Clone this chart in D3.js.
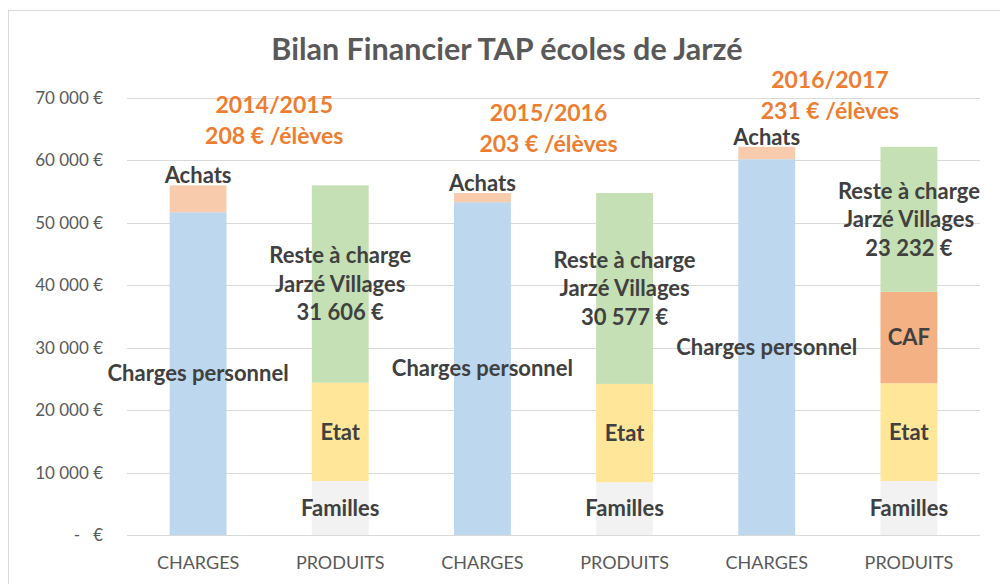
<!DOCTYPE html>
<html><head><meta charset="utf-8">
<script src="https://cdn.jsdelivr.net/npm/d3@7"></script>
<style>
html,body{margin:0;padding:0;background:#fff;}
svg{display:block;font-family:Lato,"Open Sans",sans-serif;}
</style></head>
<body>
<svg id="chart" width="1000" height="584"></svg>
<script>
// ---- data ----
const categories = ["CHARGES","PRODUITS","CHARGES","PRODUITS","CHARGES","PRODUITS"];
const years = ["2014/2015","2015/2016","2016/2017"];
const perPupil = ["208 € /élèves","203 € /élèves","231 € /élèves"];
const chargesPersonnel = [51700, 0, 53300, 0, 60200, 0];
const achats = [4306, 0, 1477, 0, 1980, 0];
const familles = [0, 8650, 0, 8450, 0, 8650];
const etat = [0, 15750, 0, 15750, 0, 15650];
const caf = [0, 0, 0, 0, 0, 14650];
const reste = [0, 31606, 0, 30577, 0, 23232];
const yTicks = [0,10000,20000,30000,40000,50000,60000,70000];

const seriesKeys = ["chargesPersonnel","achats","familles","etat","caf","reste"];
const seriesNames = {chargesPersonnel:"Charges personnel",achats:"Achats",familles:"Familles",etat:"Etat",caf:"CAF",reste:"Reste à charge"};
const colors = {chargesPersonnel:"#BDD7EE",achats:"#F8CBAD",familles:"#F2F2F2",etat:"#FFE699",caf:"#F4B183",reste:"#C5E0B4"};

const table = categories.map((c,i)=>({key:i, cat:c, chargesPersonnel:chargesPersonnel[i], achats:achats[i],
  familles:familles[i], etat:etat[i], caf:caf[i], reste:reste[i]}));

// ---- layout ----
const svg = d3.select("#chart");
const plot={left:127,right:980,top:98,bottom:535};
svg.append("rect").attr("x",8.5).attr("y",10.5).attr("width",1000).attr("height",600)
  .attr("fill","#fff").attr("stroke","#D9D9D9");

const x = d3.scaleBand().domain(table.map(d=>d.key)).range([plot.left,plot.right]).paddingInner(0.6).paddingOuter(0.3);
const y = d3.scaleLinear().domain([0,70000]).range([plot.bottom,plot.top]);

// gridlines
svg.append("g").selectAll("line").data(yTicks).join("line")
  .attr("x1",plot.left).attr("x2",plot.right)
  .attr("y1",d=>Math.round(y(d))+0.5).attr("y2",d=>Math.round(y(d))+0.5)
  .attr("stroke","#D9D9D9").attr("stroke-width",1);

// y axis labels
const fmtNum = v => v===0 ? "-   €" : d3.format(",")(v).replace(/,/g," ")+" €";
const yAxis = d3.axisLeft(y).tickValues(yTicks).tickSize(0).tickPadding(24).tickFormat(fmtNum);
const gy = svg.append("g").attr("transform",`translate(${plot.left},0)`).call(yAxis);
gy.select(".domain").remove();
gy.selectAll("text").attr("fill","#595959").attr("font-size",17).style("white-space","pre").attr("font-family","Lato");

// x axis labels
const xAxis = d3.axisBottom(x).tickSize(0).tickPadding(21).tickFormat(i=>categories[i]);
const gx = svg.append("g").attr("transform",`translate(0,${plot.bottom})`).call(xAxis);
gx.select(".domain").remove();
gx.selectAll("text").attr("fill","#595959").attr("font-size",18).attr("font-family","Lato");

// stacks
const stack = d3.stack().keys(seriesKeys);
const series = stack(table);
const gBars = svg.append("g");
series.forEach(s=>{
  gBars.selectAll(null).data(s.filter(d=>d[1]-d[0]>0)).join("rect")
    .attr("x",d=>x(d.data.key)).attr("width",x.bandwidth())
    .attr("y",d=>y(d[1])).attr("height",d=>y(d[0])-y(d[1]))
    .attr("fill",colors[s.key]);
});

// data labels
const fmtVal = v => d3.format(",")(v).replace(/,/g," ")+" €";
const gLab = svg.append("g").attr("fill","#404040").attr("font-size",22).attr("font-weight",700).attr("text-anchor","middle");
series.forEach(s=>{
  s.filter(d=>d[1]-d[0]>0).forEach(d=>{
    const cx = x(d.data.key)+x.bandwidth()/2;
    let lines = [seriesNames[s.key]];
    if(s.key==="reste") lines = ["Reste à charge","Jarzé Villages",fmtVal(d.data.reste)];
    let cy = s.key==="achats" ? y(d[1])-10 : (y(d[0])+y(d[1]))/2;
    const lh = 28.5;
    const t = gLab.append("text").attr("x",cx).attr("y",cy);
    lines.forEach((ln,k)=>{
      t.append("tspan").attr("x",cx).attr("y",cy+(k-(lines.length-1)/2)*lh).attr("dy","0.35em").text(ln);
    });
  });
});

// title
svg.append("text").attr("x",507).attr("y",49).attr("dy","0.35em").attr("text-anchor","middle")
  .attr("fill","#595959").attr("font-size",30.5).attr("font-weight",700).text("Bilan Financier TAP écoles de Jarzé");

// year annotations
const annotOffsetX = [-66,-76,-79];
const annotTopY = [105,113,80];
years.forEach((yr,i)=>{
  const cx = x(i*2+1)+x.bandwidth()/2 + annotOffsetX[i];
  const g = svg.append("text").attr("text-anchor","middle").attr("fill","#ED7D31").attr("font-size",23).attr("font-weight",700);
  g.append("tspan").attr("x",cx).attr("y",annotTopY[i]).attr("dy","0.35em").text(yr);
  g.append("tspan").attr("x",cx).attr("y",annotTopY[i]+31).attr("dy","0.35em").text(perPupil[i]);
});
</script>
</body></html>
